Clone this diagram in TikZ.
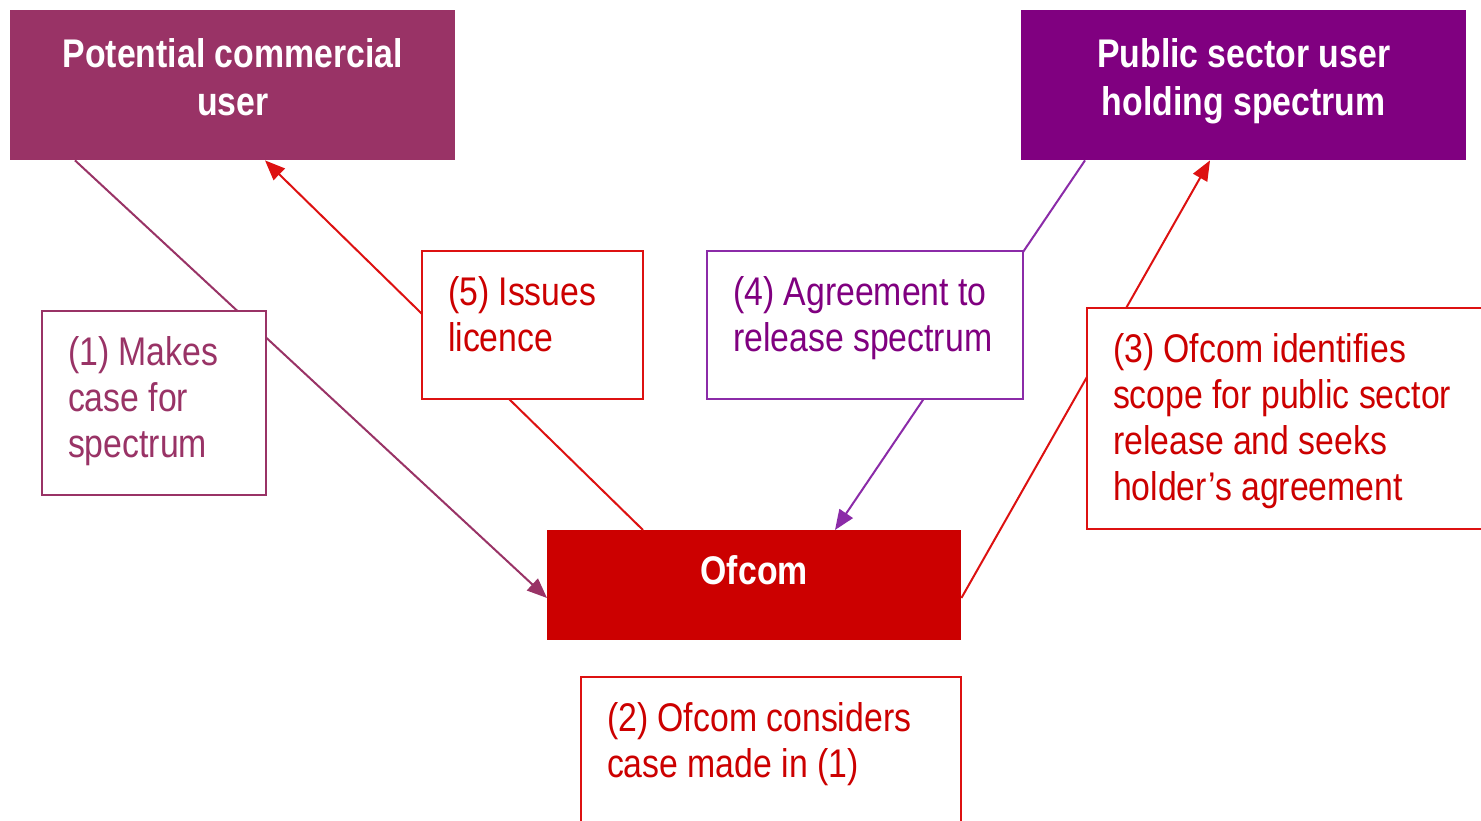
\documentclass[tikz,border=0pt]{standalone}
\usepackage{fontspec}
\setmainfont[FakeStretch=0.845]{Liberation Sans}
\usetikzlibrary{arrows.meta}
\definecolor{cmaroon}{HTML}{993366}
\definecolor{cpurple}{HTML}{800080}
\definecolor{cpurpleline}{HTML}{8B2BA8}
\definecolor{cofcom}{HTML}{CC0000}
\definecolor{credline}{HTML}{DD1111}
\begin{document}
\begin{tikzpicture}[x=1pt,y=-1pt,
  mainbox/.style={draw=none, anchor=north west, inner xsep=0pt, text=white,
    font=\fontsize{40}{48}\selectfont\bfseries},
  labelbox/.style={draw, line width=2pt, fill=white, anchor=north west,
    inner xsep=26pt, inner ysep=26pt, font=\fontsize{40}{46}\selectfont},
  conn/.style={line width=2pt, -{Triangle[length=20pt,width=16pt]}}
]
\clip (0,0) rectangle (1481,821);
\fill[white] (0,0) rectangle (1481,821);

% main boxes
\node[mainbox, fill=cmaroon, inner ysep=28pt] (comm) at (10,10)
  {\parbox[t][94pt][t]{445pt}{\centering Potential commercial\\ user}};
\node[mainbox, fill=cpurple, inner ysep=28pt] (pub) at (1021,10)
  {\parbox[t][94pt][t]{445pt}{\centering Public sector user\\ holding spectrum}};
\node[mainbox, fill=cofcom, inner ysep=25pt] (ofcom) at (547,530)
  {\parbox[t][60pt][t]{414pt}{\centering Ofcom}};

% connectors
\draw[conn, cmaroon] ([xshift=65pt]comm.south west) -- ([yshift=-68pt]ofcom.north west);
\draw[conn, credline] ([xshift=96pt]ofcom.north west) -- ([xshift=255pt]comm.south west);
\draw[conn, cpurpleline] ([xshift=64pt]pub.south west) -- ([xshift=288pt]ofcom.north west);
\draw[conn, credline] ([yshift=-68pt]ofcom.north east) -- ([xshift=189pt]pub.south west);

% label boxes
\node[labelbox, draw=cmaroon, text=cmaroon] (l1) at (41,310)
  {\parbox[t][132pt][t]{172pt}{\raggedright (1) Makes\\ case for\\ spectrum}};
\node[labelbox, draw=credline, text=cofcom] (l5) at (421,250)
  {\parbox[t][96pt][t]{169pt}{\raggedright (5) Issues\\ licence}};
\node[labelbox, draw=cpurpleline, text=cpurple] (l4) at (706,250)
  {\parbox[t][96pt][t]{264pt}{\raggedright (4) Agreement to\\ release spectrum}};
\node[labelbox, draw=credline, text=cofcom] (l3) at (1086,307)
  {\parbox[t][169pt][t]{368pt}{\raggedright (3) Ofcom identifies\\ scope for public sector\\ release and seeks\\ holder’s agreement}};
\node[labelbox, draw=credline, text=cofcom] (l2) at (580,676)
  {\parbox[t][108pt][t]{328pt}{\raggedright (2) Ofcom considers\\ case made in (1)}};
\end{tikzpicture}
\end{document}
